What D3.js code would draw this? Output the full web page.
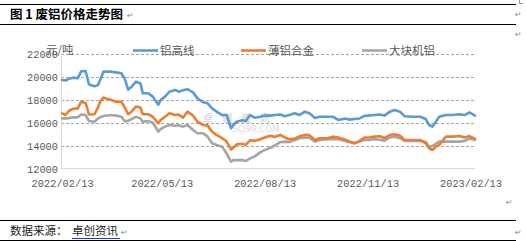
<!DOCTYPE html>
<html><head><meta charset="utf-8">
<script src="https://cdn.jsdelivr.net/npm/d3@7"></script>
<style>
html,body{margin:0;padding:0;background:#fff;}
svg{display:block;}
</style></head>
<body>
<svg id="c" width="526" height="241"></svg>
<script>
const title = "图 1 废铝价格走势图";
const source = "数据来源：";
const sourceLink = "卓创资讯";
const unitLabel = "元/吨";
const seriesNames = ["铝高线", "薄铝合金", "大块机铝"];
const seriesColors = ["#5B9BD5", "#ED7D31", "#A5A5A5"];
const yTicks = [12000, 14000, 16000, 18000, 20000, 22000];
const xTickLabels = ["2022/02/13", "2022/05/13", "2022/08/13", "2022/11/13", "2023/02/13"];

const dates = ["2022-02-13","2022-02-16","2022-02-19","2022-02-23","2022-02-27","2022-03-02","2022-03-06","2022-03-09","2022-03-14","2022-03-17","2022-03-19","2022-03-22","2022-03-29","2022-04-02","2022-04-07","2022-04-10","2022-04-13","2022-04-16","2022-04-20","2022-04-24","2022-04-26","2022-05-01","2022-05-05","2022-05-10","2022-05-12","2022-05-16","2022-05-20","2022-05-25","2022-05-28","2022-06-01","2022-06-05","2022-06-10","2022-06-14","2022-06-19","2022-06-23","2022-06-27","2022-07-01","2022-07-06","2022-07-10","2022-07-14","2022-07-16","2022-07-19","2022-07-24","2022-07-27","2022-07-31","2022-08-04","2022-08-09","2022-08-13","2022-08-18","2022-08-22","2022-08-27","2022-08-31","2022-09-04","2022-09-09","2022-09-13","2022-09-18","2022-09-22","2022-09-27","2022-10-01","2022-10-08","2022-10-13","2022-10-18","2022-10-24","2022-10-28","2022-11-01","2022-11-06","2022-11-10","2022-11-15","2022-11-19","2022-11-24","2022-11-28","2022-12-03","2022-12-07","2022-12-12","2022-12-16","2022-12-23","2022-12-30","2023-01-04","2023-01-07","2023-01-10","2023-01-13","2023-01-16","2023-01-22","2023-01-28","2023-02-03","2023-02-08","2023-02-12","2023-02-17"];

const aluWire = [19700,19650,19800,19900,19850,20450,20480,19300,19150,19250,19700,20420,20420,20360,20280,19800,18850,19100,19550,19400,18550,18550,18250,17550,17950,18250,18680,18830,18680,18800,18900,18620,18100,17760,17670,17230,16950,16650,16650,15500,15780,16070,16200,16120,16650,16420,16500,16600,16600,16650,16700,16550,16650,16800,16650,16940,16800,16400,16500,16500,16500,16220,16350,16250,16300,16350,16570,16620,16650,16700,16600,16940,17080,16940,16550,16500,16500,16300,15780,15640,16070,16500,16650,16650,16720,16650,16880,16600];
const thinAlloy = [16800,16650,17000,17200,17230,17810,17700,16700,16720,17300,17810,18160,17950,17810,17800,17300,16720,16940,17380,17300,16720,16720,16500,15930,16220,16500,16800,16650,16700,16420,16940,16600,16070,15780,15750,15200,14920,14650,14340,13650,13800,14100,14150,14050,14450,14400,14550,14700,14850,14750,14920,14700,14550,14600,14800,14920,14900,14480,14630,14630,14770,14700,14500,14340,14200,14400,14700,14700,14770,14800,14650,14920,14980,14850,14480,14480,14480,14190,13760,13610,13900,14050,14770,14770,14820,14700,14820,14600];
const bulkScrap = [16360,16360,16380,16450,16450,16700,16650,16130,16070,16350,16450,16570,16650,16600,16500,16100,16150,16300,16500,16360,16070,16120,16000,15200,15430,15640,15780,15720,15760,15640,15780,15350,15060,15060,14770,14190,14050,13900,13300,12600,12730,12730,12730,12650,12880,13050,13400,13600,13800,14000,14290,14340,14300,14480,14630,14680,14680,14340,14480,14550,14550,14550,14400,14300,14200,14350,14500,14480,14550,14500,14420,14700,14770,14630,14400,14400,14400,14300,13900,13950,14150,14340,14340,14340,14340,14400,14600,14480];

const seriesValues = [aluWire, thinAlloy, bulkScrap];

const svg = d3.select("#c");
const parse = d3.timeParse("%Y-%m-%d");
const parseTick = d3.timeParse("%Y/%m/%d");
const dts = dates.map(parse);

const x = d3.scaleTime().domain([parse("2022-02-12"), parse("2023-02-17")]).range([61, 475]);
const y = d3.scaleLinear().domain([12000, 22000]).range([168.5, 53.5]);

const cjk = "'Noto Sans CJK SC','Noto Sans',sans-serif";
const mono = "'Liberation Mono','DejaVu Sans Mono',monospace";

// frame lines
const frame = svg.append("g").attr("stroke", "#000").attr("stroke-width", 1.2);
[4.5, 24.5, 220.5, 240.5].forEach(yy => frame.append("line").attr("x1", 0).attr("x2", 516).attr("y1", yy).attr("y2", yy));
svg.append("path").attr("d", "M519.5,0 V3.5 H523").attr("fill", "none").attr("stroke", "#999").attr("stroke-width", 1);

// title
svg.append("text").attr("x", 10).attr("y", 19).attr("font-family", cjk).attr("font-weight", "bold")
  .attr("font-size", 12.5).attr("fill", "#000").text(title);

// paragraph marks
const pm = [[127, 18], [515, 17], [515, 37], [506, 205], [515, 235]];
pm.forEach(([px, py]) => svg.append("text").attr("x", px).attr("y", py).attr("font-family", "'DejaVu Sans',sans-serif")
  .attr("font-size", 8).attr("fill", "#888").text("↵"));

// gridlines
svg.append("g").selectAll("line").data(yTicks.slice(1)).join("line")
  .attr("x1", 61).attr("x2", 474).attr("y1", d => Math.round(y(d)) + 0.5).attr("y2", d => Math.round(y(d)) + 0.5)
  .attr("stroke", "#a6a6a6").attr("stroke-width", 1).attr("stroke-dasharray", "3,2");

// axes lines
svg.append("line").attr("x1", 61.5).attr("x2", 61.5).attr("y1", y(22000)).attr("y2", y(12000)).attr("stroke", "#d9d9d9").attr("stroke-width", 1);
svg.append("line").attr("x1", 61).attr("x2", 475).attr("y1", y(12000)).attr("y2", y(12000)).attr("stroke", "#d9d9d9").attr("stroke-width", 1);

// y labels
const yAxis = svg.append("g").attr("transform", "translate(58,0)")
  .call(d3.axisLeft(y).tickValues(yTicks).tickSize(0).tickPadding(0).tickFormat(d3.format("d")));
yAxis.select(".domain").remove();
yAxis.selectAll("text").attr("font-family", mono).attr("font-size", 11.5).attr("fill", "#595959")
  .attr("textLength", 31).attr("lengthAdjust", "spacingAndGlyphs").attr("dy", "0.36em");

// x labels
const xAxis = svg.append("g").attr("transform", "translate(0,187)")
  .call(d3.axisBottom(x).tickValues(xTickLabels.map(parseTick)).tickSize(0).tickPadding(0)
    .tickFormat(d3.timeFormat("%Y/%m/%d")));
xAxis.select(".domain").remove();
xAxis.selectAll("text").attr("font-family", mono).attr("font-size", 11.5).attr("fill", "#595959")
  .attr("textLength", 62).attr("lengthAdjust", "spacingAndGlyphs").attr("dy", "0");

// watermark
svg.append("text").attr("x", 203).attr("y", 122).attr("font-family", cjk).attr("font-weight", "bold")
  .attr("font-size", 10).attr("fill", "#d9d9d9").attr("letter-spacing", 9).text("卓创资讯");
svg.append("text").attr("x", 232).attr("y", 132).attr("font-family", "'DejaVu Sans',sans-serif")
  .attr("font-size", 8.5).attr("fill", "#dadada").text("SCI99.COM");

// lines
const line = d3.line().x((d, i) => x(dts[i])).y(d => y(d));
seriesValues.slice().reverse().forEach((vals, k) => {
  const idx = seriesValues.length - 1 - k;
  svg.append("path").datum(vals).attr("d", line).attr("fill", "none")
    .attr("stroke", seriesColors[idx]).attr("stroke-width", 2.6).attr("stroke-linejoin", "round").attr("stroke-linecap", "round");
});

// unit label
svg.append("text").attr("x", 46).attr("y", 54).attr("font-family", cjk).attr("font-size", 11.5).attr("fill", "#595959").text(unitLabel);

// legend
const legendX = [133, 241, 362];
seriesNames.forEach((n, i) => {
  svg.append("line").attr("x1", legendX[i]).attr("x2", legendX[i] + 25).attr("y1", 50.5).attr("y2", 50.5)
    .attr("stroke", seriesColors[i]).attr("stroke-width", 2.6);
  svg.append("text").attr("x", legendX[i] + 27).attr("y", 55).attr("font-family", cjk).attr("font-size", 11.5)
    .attr("fill", "#595959").text(n);
});

// source
svg.append("text").attr("x", 10).attr("y", 235).attr("font-family", cjk).attr("font-size", 11.5).attr("fill", "#222").text(source);
svg.append("text").attr("x", 72).attr("y", 235).attr("font-family", cjk).attr("font-size", 11.5).attr("fill", "#222").text(sourceLink);
svg.append("line").attr("x1", 72).attr("x2", 120).attr("y1", 238.5).attr("y2", 238.5).attr("stroke", "#1f3fd0").attr("stroke-width", 1);
svg.append("text").attr("x", 121).attr("y", 235).attr("font-family", "'DejaVu Sans',sans-serif").attr("font-size", 8).attr("fill", "#888").text("↵");
</script>
</body></html>
